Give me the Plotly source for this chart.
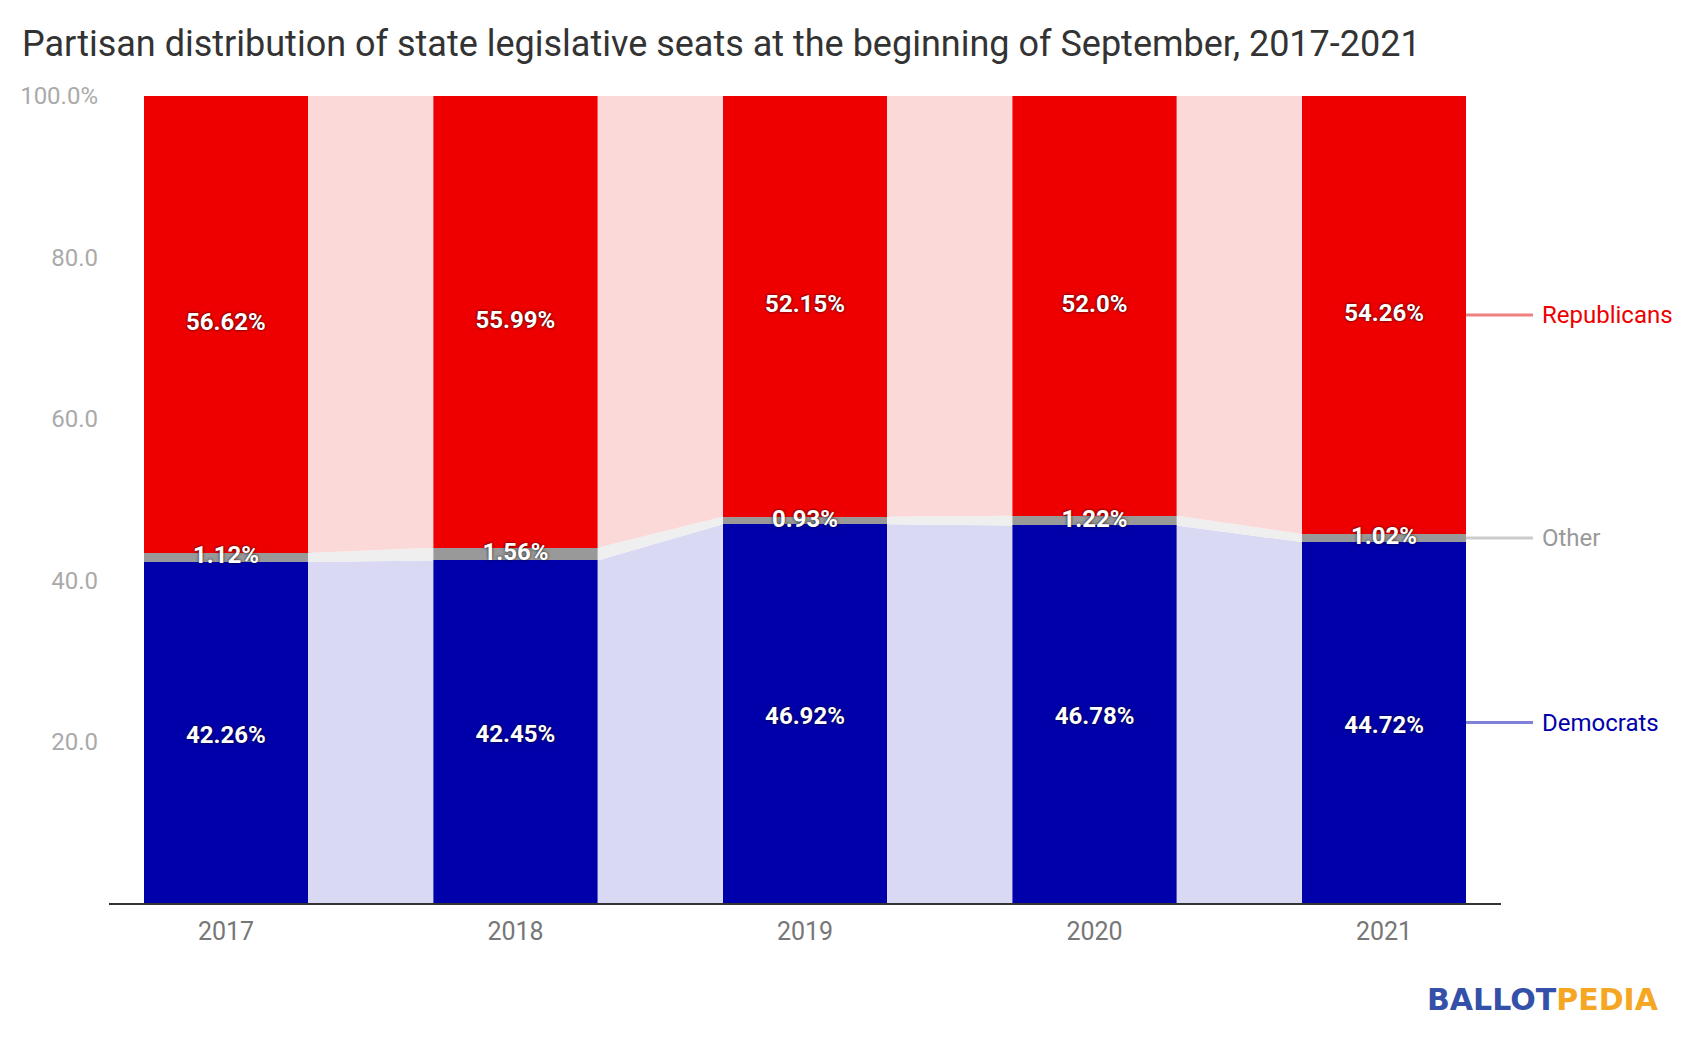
import plotly.graph_objects as go

# ---- data ----
years = ["2017", "2018", "2019", "2020", "2021"]
democrats = [42.26, 42.45, 46.92, 46.78, 44.72]
other = [1.12, 1.56, 0.93, 1.22, 1.02]
republicans = [56.62, 55.99, 52.15, 52.0, 54.26]
series_names = ["Democrats", "Other", "Republicans"]
y_tickvals = [20, 40, 60, 80, 100]
y_ticktext = ["20.0", "40.0", "60.0", "80.0", "100.0%"]

# ---- styles ----
bar_colors = ["#0000aa", "#999999", "#ee0000"]
link_colors = ["#d9d9f3", "#efefef", "#fcd9d9"]
legend_line_colors = ["#8080d8", "#cccccc", "#f08080"]
legend_text_colors = ["#0000aa", "#999999", "#ee0000"]
BAR_W = 0.567
FONT = "Roboto"

xs = list(range(len(years)))
series = [democrats, other, republicans]

# cumulative bases
bases = []
acc = [0.0] * len(years)
for s in series:
    bases.append(acc[:])
    acc = [a + v for a, v in zip(acc, s)]

fig = go.Figure()

# connecting areas between bars
for k, s in enumerate(series):
    px, py = [], []
    for i in range(len(years) - 1):
        x0 = xs[i] + BAR_W / 2
        x1 = xs[i + 1] - BAR_W / 2
        b0, b1 = bases[k][i], bases[k][i + 1]
        t0, t1 = b0 + s[i], b1 + s[i + 1]
        px += [x0, x1, x1, x0, x0, None]
        py += [b0, b1, t1, t0, b0, None]
    fig.add_trace(go.Scatter(
        x=px, y=py, mode="lines", fill="toself", fillcolor=link_colors[k],
        line=dict(width=0, color=link_colors[k]), hoverinfo="skip",
        showlegend=False, connectgaps=False,
    ))

# stacked bars
for k, s in enumerate(series):
    fig.add_trace(go.Bar(
        x=xs, y=s, base=bases[k], width=BAR_W, marker=dict(color=bar_colors[k], line=dict(width=0)),
        name=series_names[k], showlegend=False, hoverinfo="skip",
    ))

# value labels
label_shift = [-0.5, 0.0, 0.0]  # small vertical nudge (in % units)
for k, s in enumerate(series):
    mids = [b + v / 2 + label_shift[k] for b, v in zip(bases[k], s)]
    fig.add_trace(go.Scatter(
        x=xs, y=mids, mode="text", text=[f"{v}%" for v in s],
        textposition="middle center",
        textfont=dict(family=FONT, size=24, color="white", weight="bold",
                      shadow="0px 0px 3px rgba(0,0,0,0.85)"),
        hoverinfo="skip", showlegend=False, cliponaxis=False,
    ))

# right-hand series labels at the last bar
last = len(years) - 1
for k, s in enumerate(series):
    mid = bases[k][last] + s[last] / 2
    fig.add_shape(type="line", xref="paper", yref="paper",
                  x0=0.9749, x1=1.023, y0=mid / 100, y1=mid / 100,
                  line=dict(color=legend_line_colors[k], width=3))
    fig.add_annotation(xref="paper", yref="y", x=1.028, y=mid, xanchor="left",
                       yanchor="middle", showarrow=False, text=series_names[k],
                       font=dict(family=FONT, size=24, color=legend_text_colors[k]))

# logo
fig.add_annotation(xref="paper", yref="paper", x=1.115, y=-0.095, xanchor="right",
                   yanchor="top", showarrow=False,
                   text="<span style='color:#3450a8'>BALLOT</span><span style='color:#f5a623'>PEDIA</span>",
                   font=dict(family="DejaVu Sans", size=30, weight="bold"))

fig.update_layout(
    width=1684, height=1046,
    margin=dict(l=109, r=183, t=96, b=143),
    paper_bgcolor="white", plot_bgcolor="white",
    barmode="overlay", bargap=0,
    showlegend=False,
    title=dict(text="Partisan distribution of state legislative seats at the beginning of September, 2017-2021",
               x=22 / 1684, xref="container", xanchor="left",
               y=1 - 43 / 1046, yref="container", yanchor="middle",
               font=dict(family=FONT, size=36, color="#333333")),
    font=dict(family=FONT),
)
fig.update_xaxes(range=[-0.404, 4.404], tickvals=xs, ticktext=years, showgrid=False,
                 zeroline=False, showline=True, linecolor="#333333", linewidth=2,
                 ticks="", ticklabelstandoff=5,
                 tickfont=dict(family=FONT, size=25, color="#777777"),
                 fixedrange=True)
fig.update_yaxes(range=[0, 100], tickvals=y_tickvals, ticktext=y_ticktext, showgrid=False,
                 zeroline=False, showline=False, ticks="", ticklabelstandoff=10,
                 tickfont=dict(family=FONT, size=24, color="#aaaaaa"), fixedrange=True)

fig.write_html("out.html", config={"displayModeBar": False},
               post_script="document.body.style.margin='0';document.body.style.overflow='hidden';")
